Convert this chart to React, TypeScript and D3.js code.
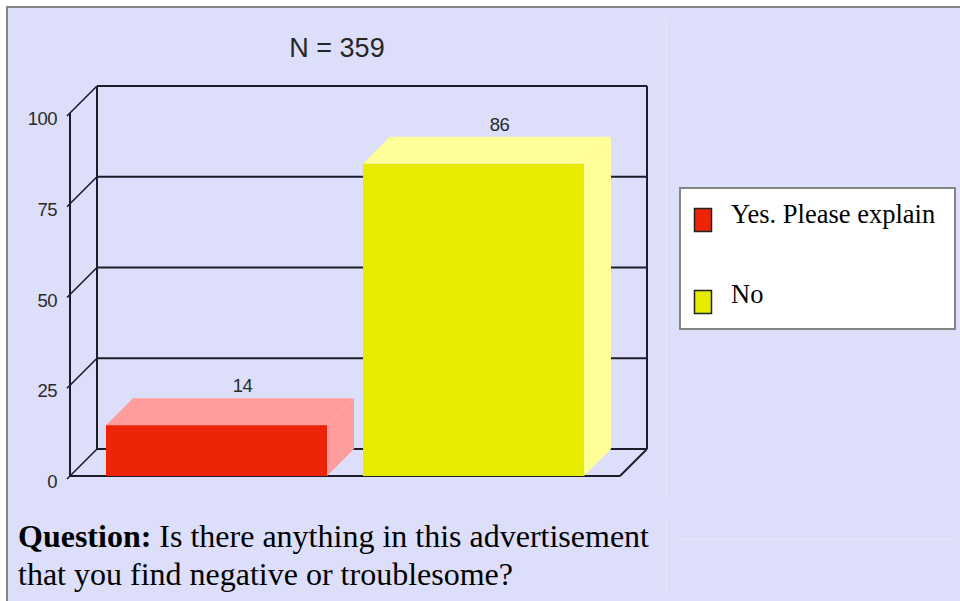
import React from "react";
import * as d3 from "d3";

const categories = ["Yes. Please explain", "No"];
const values = [14, 86];
const yTicks = [0, 25, 50, 75, 100];
const title = "N = 359";
const frontColors = ["#ee2408", "#e5ec00"];
const lightColors = ["#ff9c9c", "#ffff99"];

export default function App() {
  const W = 960, H = 601;
  const depth = 27;
  const y = d3.scaleLinear().domain([0, 100]).range([476, 113]);
  const x = d3.scaleBand<string>().domain(categories).range([70, 620]).paddingInner(0.14).paddingOuter(0.14);
  const bw = x.bandwidth();
  const y0 = y(0);
  const left = 70, right = 620;
  const lineColor = "#1c1c2a";
  const poly = (pts: [number, number][]) => d3.line()(pts) + "Z";

  return (
    <svg width={W} height={H} style={{ position: "fixed", left: 0, top: 0 }} xmlns="http://www.w3.org/2000/svg">
      <rect x={0} y={0} width={W} height={H} fill="#ffffff" />
      <rect x={7} y={7} width={W - 7} height={H - 7} fill="#dddef9" />
      {/* outer border */}
      <line x1={6} y1={7} x2={W} y2={7} stroke="#858585" strokeWidth={2} />
      <line x1={7} y1={6} x2={7} y2={H} stroke="#858585" strokeWidth={2} />
      {/* faint table cell borders */}
      <line x1={666} y1={18} x2={666} y2={498} stroke="#e9e9fb" strokeWidth={1} />
      <line x1={666} y1={520} x2={666} y2={592} stroke="#e9e9fb" strokeWidth={1} />
      <line x1={678} y1={539} x2={957} y2={539} stroke="#e9e9fb" strokeWidth={1} />

      {/* title */}
      <text x={337} y={57} textAnchor="middle" fontFamily="'Liberation Sans', Arial, sans-serif" fontSize={27} fill="#262626">{title}</text>

      {/* back wall gridlines */}
      {yTicks.map((t) => (
        <g key={"g" + t}>
          <line x1={left + depth} y1={y(t) - depth} x2={right + depth} y2={y(t) - depth} stroke={lineColor} strokeWidth={2} />
          <line x1={left - 3} y1={y(t) + 3} x2={left + depth} y2={y(t) - depth} stroke={lineColor} strokeWidth={1.6} />
          <text x={57} y={y(t) + 12} textAnchor="end" fontFamily="'Liberation Sans', Arial, sans-serif" fontSize={18.5} fill="#2a2a2a" letterSpacing={-0.5}>{t}</text>
        </g>
      ))}
      {/* back verticals */}
      <line x1={left + depth} y1={y(100) - depth} x2={left + depth} y2={y0 - depth} stroke={lineColor} strokeWidth={2} />
      <line x1={right + depth} y1={y(100) - depth} x2={right + depth} y2={y0 - depth} stroke={lineColor} strokeWidth={2} />
      {/* front axis */}
      <line x1={left} y1={y(100)} x2={left} y2={y0} stroke={lineColor} strokeWidth={2} />
      <line x1={left} y1={y0} x2={right} y2={y0} stroke={lineColor} strokeWidth={2} />
      <line x1={right} y1={y0} x2={right + depth} y2={y0 - depth} stroke={lineColor} strokeWidth={2} />

      {/* bars */}
      {categories.map((c, i) => {
        const x0 = x(c) as number;
        const x1 = x0 + bw;
        const yv = y(values[i]);
        return (
          <g key={c}>
            <path d={poly([[x0, yv], [x0 + depth, yv - depth], [x1 + depth, yv - depth], [x1, yv]])} fill={lightColors[i]} />
            <path d={poly([[x1, yv], [x1 + depth, yv - depth], [x1 + depth, y0 - depth], [x1, y0]])} fill={lightColors[i]} />
            <rect x={x0} y={yv} width={bw} height={y0 - yv} fill={frontColors[i]} />
            <text x={x0 + bw / 2 + depth - 1} y={yv - depth - 6} textAnchor="middle" fontFamily="'Liberation Sans', Arial, sans-serif" fontSize={18.5} fill="#2a2a2a" letterSpacing={-0.5}>{values[i]}</text>
          </g>
        );
      })}

      {/* legend */}
      <rect x={680} y={188} width={275} height={141} fill="#ffffff" stroke="#858585" strokeWidth={2} />
      {categories.map((c, i) => (
        <g key={"l" + c}>
          <rect x={694.5} y={208.5 + i * 82} width={17} height={23} fill={frontColors[i]} stroke="#222" strokeWidth={1.5} />
          <text x={731} y={223 + i * 80} fontFamily="'Liberation Serif', 'Times New Roman', serif" fontSize={26.5} fill="#000">{c}</text>
        </g>
      ))}

      {/* question */}
      <text x={18} y={547} fontFamily="'Liberation Serif', 'Times New Roman', serif" fontSize={32} fill="#000">
        <tspan fontWeight="bold">Question:</tspan> Is there anything in this advertisement
      </text>
      <text x={18} y={585} fontFamily="'Liberation Serif', 'Times New Roman', serif" fontSize={32} fill="#000">that you find negative or troublesome?</text>
    </svg>
  );
}
